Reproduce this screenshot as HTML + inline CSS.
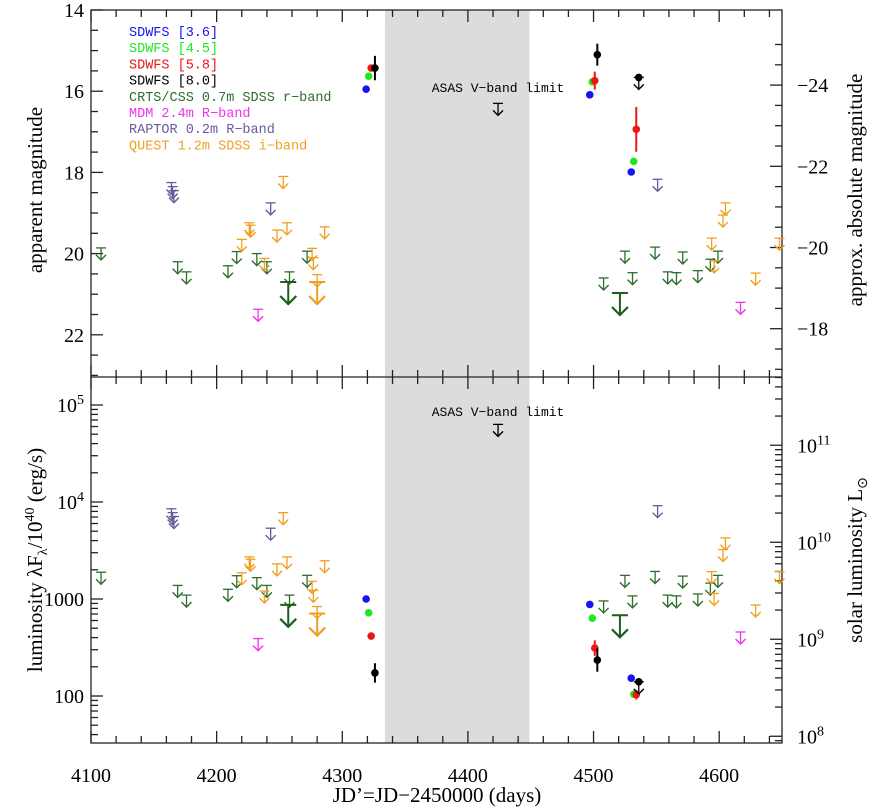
<!DOCTYPE html>
<html><head><meta charset="utf-8"><style>
html,body{margin:0;padding:0;background:#fff}
svg{display:block}
text{font-family:"Liberation Serif",serif;fill:#000}
text.mono{font-family:"Liberation Mono",monospace}
</style></head><body>
<svg id="chart" width="869" height="808" viewBox="0 0 869 808"></svg>
<script>
// ---- data (JD' days, apparent magnitude) ----
const sdwfs36Days=[4319,4497,4530];
const sdwfs36Mags=[15.95,16.09,17.99];
const sdwfs45Days=[4321,4499,4532];
const sdwfs45Mags=[15.63,15.77,17.73];
const sdwfs45Err=[0,0,0.08];
const sdwfs45LogErr=[0,0,0.02];
const sdwfs58Days=[4323,4501,4534];
const sdwfs58Mags=[15.43,15.74,16.94];
const sdwfs58Err=[0,0.22,0.55];
const sdwfs58LogErr=[0,0.08,0.05];
const sdwfs80Days=[4326,4503];
const sdwfs80Mags=[15.43,15.1];
const sdwfs80Err=[0.3,0.27];
const sdwfs80LogErr=[0.1,0.12];
const sdwfs80LimDays=[4536];
const sdwfs80LimMags=[15.66];
const crtsDays=[4108,4169,4176,4209,4216,4232,4240,4258,4272,4508,4525,4531,4549,4559,4566,4571,4583,4593,4599];
const crtsMags=[19.86,20.2,20.45,20.3,19.95,20.0,20.2,20.45,19.94,20.6,19.94,20.47,19.84,20.45,20.47,19.96,20.42,20.14,19.94];
const crtsBigDays=[4257,4521];
const crtsBigMags=[20.7,20.97];
const mdmDays=[4233,4617];
const mdmMags=[21.37,21.2];
const raptorDays=[4164,4165,4166,4243,4551];
const raptorMags=[18.25,18.35,18.45,18.75,18.17];
const questDays=[4253,4226,4227,4220,4248,4256,4286,4238,4276,4277,4280,4594,4596,4605,4603,4629,4648];
const questMags=[18.1,19.24,19.3,19.65,19.42,19.24,19.34,20.12,19.87,20.1,20.52,19.62,20.18,18.75,19.05,20.48,19.62];
const questBigDays=[4280];
const questBigMags=[20.7];
const asasDays=[4424];
const asasMags=[16.3];
// zero points: log10(L/1e40 erg/s) = zp - 0.4*mag
const zp={s36:9.38,s45:9.11,s58:8.79,s80:8.41,crts:11.22,mdm:11.14,raptor:11.23,quest:11.13,asas:11.32};
const magTicks=[14,16,18,20,22];
const absTicks=[-24,-22,-20,-18];
const xTicks=[4100,4200,4300,4400,4500,4600];
const gapStart=4334, gapEnd=4449;

// ---- geometry ----
const L=91,R=782,T=10,M=377,B=743;
const X=d=>L+(d-4100)*(R-L)/550;
const YM=m=>T+(m-14)*40.6;
const YL=lg=>696-(lg-2)*97;
const svg=document.getElementById('chart');
const NS='http://www.w3.org/2000/svg';
function el(tag,attrs,parent){const e=document.createElementNS(NS,tag);for(const k in attrs)e.setAttribute(k,attrs[k]);(parent||svg).appendChild(e);return e;}
function txt(x,y,s,attrs,parent){const t=el('text',Object.assign({x:x,y:y},attrs||{}),parent);t.textContent=s;return t;}

// gap
let g=el('rect',{x:X(gapStart),y:T,width:X(gapEnd)-X(gapStart),height:B-T,fill:'#dcdcdc'});



// axes
const ax=el('g',{stroke:'#222','stroke-width':1.3,fill:'none'});


el('rect',{x:L,y:T,width:R-L,height:B-T},ax);
el('line',{x1:L,y1:M,x2:R,y2:M},ax);
for(let d=4100;d<=4650;d+=20){const maj=d%100===0;const l=maj?12:7;
 for(const yy of [T,M]){el('line',{x1:X(d),y1:yy,x2:X(d),y2:yy+l},ax);}
 for(const yy of [M,B]){el('line',{x1:X(d),y1:yy,x2:X(d),y2:yy-l},ax);}
}
for(let m=14;m<=23;m+=0.5){const maj=m%2===0;const l=maj?12:7;el('line',{x1:L,y1:YM(m),x2:L+l,y2:YM(m)},ax);}
for(let a=-25;a<=-16.5;a+=0.5){const y=YM(a+39.85);if(y<T||y>M)continue;const l=(a%2===0)?12:7;el('line',{x1:R,y1:y,x2:R-l,y2:y},ax);}
for(let e=1;e<=5;e++)for(let k=1;k<10;k++){const y=YL(e+Math.log10(k));if(y<M||y>B)continue;el('line',{x1:L,y1:y,x2:L+(k===1?12:7),y2:y},ax);}
const sOff=Math.log10(2.6e6);
for(let e=7;e<=12;e++)for(let k=1;k<10;k++){const y=YL(e+Math.log10(k)-sOff);if(y<M||y>B)continue;el('line',{x1:R,y1:y,x2:R-(k===1?12:7),y2:y},ax);}

// tick labels
const tl=el('g',{'font-size':20});


magTicks.forEach(m=>txt(84,YM(m)+7,String(m),{'text-anchor':'end'},tl));
absTicks.forEach(a=>txt(797,YM(a+39.85)+7,'\u2212'+Math.abs(a),{},tl));
xTicks.forEach(d=>txt(X(d),782,String(d),{'text-anchor':'middle'},tl));
[[5,'10','5'],[4,'10','4'],[3,'1000',''],[2,'100','']].forEach(([e,b,s])=>{const t=txt(84,YL(e)+7,b,{'text-anchor':'end'},tl);if(s){t.textContent='';const a=el('tspan',{},t);a.textContent=b;const c=el('tspan',{'font-size':14,dy:-8});c.textContent=s;t.appendChild(c);}});
[[11,'11'],[10,'10'],[9,'9'],[8,'8']].forEach(([e,s])=>{const t=txt(797,YL(e-sOff)+7,'',{},tl);const a=el('tspan',{},t);a.textContent='10';const c=el('tspan',{'font-size':14,dy:-8},t);c.textContent=s;});

// axis titles
let t1=txt(0,0,'JD\u2019=JD\u22122450000 (days)',{x:437,y:802,'text-anchor':'middle','font-size':21});

let t2=txt(0,0,'apparent magnitude',{'text-anchor':'middle','font-size':21,transform:'translate(42,190) rotate(-90)'});

let t3=el('text',{'text-anchor':'middle','font-size':21,transform:'translate(42,560) rotate(-90)'});
t3.innerHTML='luminosity \u03bbF<tspan font-size="14" dy="5">\u03bb</tspan><tspan dy="-5">/10</tspan><tspan font-size="14" dy="-8">40</tspan><tspan dy="8"> (erg/s)</tspan>';

let t4=txt(0,0,'approx. absolute magnitude',{'text-anchor':'middle','font-size':21,transform:'translate(862,190) rotate(-90)'});

let t5=el('text',{'text-anchor':'middle','font-size':21,transform:'translate(862,560) rotate(-90)'});
t5.innerHTML='solar luminosity L<tspan font-size="14" dy="5">\u2299</tspan>';


// markers
function limit(parent,x,y,col,big){const w=big?8:5,len=big?22:12,ah=big?8:5;
 el('line',{x1:x-w,y1:y,x2:x+w,y2:y,stroke:col,'stroke-width':big?2:1.3},parent);
 el('line',{x1:x,y1:y,x2:x,y2:y+len,stroke:col,'stroke-width':big?2:1.3},parent);
 el('polyline',{points:`${x-ah},${y+len-ah} ${x},${y+len} ${x+ah},${y+len-ah}`,stroke:col,fill:'none','stroke-width':big?2.2:1.4},parent);}
function dot(parent,x,y,col,ey){if(ey)el('line',{x1:x,y1:y-ey,x2:x,y2:y+ey,stroke:col,'stroke-width':2},parent);el('circle',{cx:x,cy:y,r:3.8,fill:col},parent);}
function series(name,col,days,mags,key,kind,errs,logErrs){
 const grp=el('g',{});
 
 
 days.forEach((d,i)=>{const m=mags[i];const x=X(d);const lg=zp[key]-0.4*m;const e=errs?errs[i]:0;const le=logErrs?logErrs[i]:0;
  if(kind==='dot'){dot(grp,x,YM(m),col,e*40.6);dot(grp,x,YL(lg),col,le*97);}
  else{limit(grp,x,YM(m),col,kind==='big');limit(grp,x,YL(lg),col,kind==='big');}
 });}
series('crts-limits','#2d6e2d',crtsDays,crtsMags,'crts','lim');
series('crts-big-limits','#1d5e1d',crtsBigDays,crtsBigMags,'crts','big');
series('quest-limits','#f0a020',questDays,questMags,'quest','lim');
series('quest-big-limits','#f0a020',questBigDays,questBigMags,'quest','big');
series('raptor-limits','#6a5a9a',raptorDays,raptorMags,'raptor','lim');
series('mdm-limits','#ee33ee',mdmDays,mdmMags,'mdm','lim');
series('asas-limit','#000',asasDays,asasMags,'asas','lim');
series('sdwfs-3.6-points','#1515ee',sdwfs36Days,sdwfs36Mags,'s36','dot');
series('sdwfs-4.5-points','#22e622',sdwfs45Days,sdwfs45Mags,'s45','dot',sdwfs45Err,sdwfs45LogErr);
series('sdwfs-5.8-points','#ee1515',sdwfs58Days,sdwfs58Mags,'s58','dot',sdwfs58Err,sdwfs58LogErr);
series('sdwfs-8.0-points','#000',sdwfs80Days,sdwfs80Mags,'s80','dot',sdwfs80Err,sdwfs80LogErr);
series('sdwfs-8.0-limit','#000',sdwfs80LimDays,sdwfs80LimMags,'s80','lim');
series('sdwfs-8.0-limit-dot','#000',sdwfs80LimDays,sdwfs80LimMags,'s80','dot');

// ASAS annotation
[92,416].forEach((y,i)=>{const a=txt(X(4424),y,'ASAS V\u2212band limit',{'text-anchor':'middle','font-size':13,class:'mono'});
 
 });

// legend
const leg=el('g',{});


[['SDWFS [3.6]','#1515ee'],['SDWFS [4.5]','#22e622'],['SDWFS [5.8]','#ee1515'],['SDWFS [8.0]','#000'],['CRTS/CSS 0.7m SDSS r\u2212band','#2d6e2d'],['MDM 2.4m R\u2212band','#ee33ee'],['RAPTOR 0.2m R\u2212band','#6a5a9a'],['QUEST 1.2m SDSS i\u2212band','#f0a020']].forEach(([s,c],i)=>{
 const t=txt(129,36+i*16.2,s,{class:'mono','font-size':13.5,style:'fill:'+c},leg);
 
 });
</script>
</body></html>
